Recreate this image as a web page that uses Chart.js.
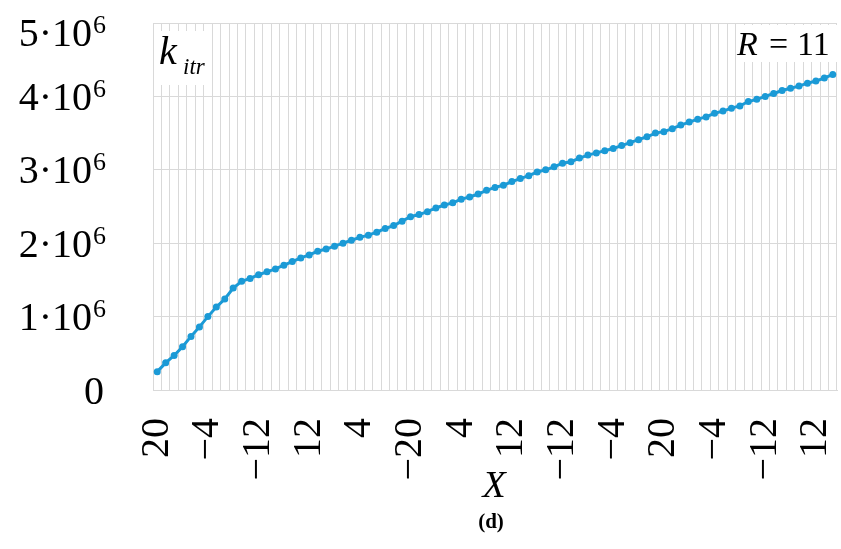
<!DOCTYPE html>
<html>
<head>
<meta charset="utf-8">
<script src="https://cdn.jsdelivr.net/npm/chart.js@4/dist/chart.umd.min.js"></script>
<style>
  html, body { margin: 0; padding: 0; background: #ffffff; }
  #wrap { width: 841px; height: 549px; }
</style>
</head>
<body>
<div id="wrap"><canvas id="c" width="841" height="549"></canvas></div>
<script>
// ---- data ----
const tickLabels = ['20', '\u22124', '\u221212', '12', '4', '\u221220', '4', '12', '\u221212', '\u22124', '20', '\u22124', '\u221212', '12'];
const tickEvery = 6;
const kValues = [
  0.25, 0.37, 0.47, 0.59, 0.73, 0.86, 1.00, 1.13, 1.24, 1.39,
  1.48, 1.52, 1.57, 1.61, 1.65, 1.70, 1.75, 1.80, 1.84, 1.89,
  1.92, 1.96, 2.00, 2.04, 2.08, 2.11, 2.15, 2.20, 2.24, 2.30,
  2.36, 2.39, 2.43, 2.48, 2.52, 2.55, 2.60, 2.63, 2.67, 2.72,
  2.76, 2.79, 2.84, 2.88, 2.92, 2.97, 3.00, 3.04, 3.09, 3.11,
  3.16, 3.20, 3.23, 3.26, 3.29, 3.33, 3.37, 3.41, 3.45, 3.50,
  3.52, 3.56, 3.61, 3.65, 3.69, 3.72, 3.77, 3.80, 3.84, 3.87,
  3.93, 3.96, 4.00, 4.04, 4.08, 4.11, 4.14, 4.18, 4.21, 4.25,
  4.30
].map(v => v * 1e6);
const yTickValues = [0, 1e6, 2e6, 3e6, 4e6, 5e6];
const yTickMantissa = ['0', '1', '2', '3', '4', '5'];
const yExponent = '6';
const seriesLabel = 'k_itr';
const annotationR = 'R';
const annotationRValue = '11';
const xTitle = 'X';
const panelLabel = '(d)';

const categories = kValues.map((_, i) => (i % tickEvery === 0 ? (tickLabels[i / tickEvery] || '') : ''));

const SERIF = "'Liberation Serif', 'Times New Roman', serif";
const GRID = '#d9d9d9';
const BLUE = '#1b9ad6';

const decorPlugin = {
  id: 'decor',
  beforeDatasetsDraw(chart) {
    const ctx = chart.ctx;
    ctx.save();
    ctx.fillStyle = '#ffffff';
    // box behind k_itr
    ctx.fillRect(154, 31, 58, 54);
    // box behind R = 11
    ctx.fillRect(737, 25, 101, 37);
    ctx.restore();
  },
  afterDraw(chart) {
    const ctx = chart.ctx;
    const ys = chart.scales.y;
    const area = chart.chartArea;
    ctx.save();
    ctx.fillStyle = '#000000';
    ctx.textBaseline = 'alphabetic';
    // y tick labels with superscript exponent
    yTickValues.forEach((v, i) => {
      let py = ys.getPixelForValue(v);
      py = Math.max(py, area.top + 9);
      if (v === 0) {
        ctx.font = '40px ' + SERIF;
        ctx.textAlign = 'right';
        ctx.fillText(yTickMantissa[i], 104, py + 13.5);
      } else {
        ctx.font = '40px ' + SERIF;
        ctx.textAlign = 'right';
        ctx.fillText(yTickMantissa[i] + '\u00B710', 92, py + 13.5);
        ctx.font = '26px ' + SERIF;
        ctx.textAlign = 'left';
        ctx.fillText(yExponent, 93, py + 0.5);
      }
    });
    // k_itr
    ctx.textAlign = 'left';
    ctx.font = 'italic 40px ' + SERIF;
    ctx.fillText('k', 159, 64);
    ctx.font = 'italic 23px ' + SERIF;
    ctx.fillText(seriesLabel.split('_')[1], 183, 74);
    // R = 11
    ctx.font = 'italic 34px ' + SERIF;
    ctx.fillText(annotationR, 737, 55);
    ctx.font = '34px ' + SERIF;
    ctx.fillText('=', 769, 55);
    ctx.fillText(annotationRValue, 797, 55);
    // axis title X
    ctx.textAlign = 'center';
    ctx.font = 'italic 38px ' + SERIF;
    ctx.fillText(xTitle, 494, 497);
    // panel label
    ctx.font = 'bold 21px ' + SERIF;
    ctx.fillText(panelLabel, 491, 528);
    ctx.restore();
  }
};

new Chart(document.getElementById('c'), {
  type: 'line',
  data: {
    labels: categories,
    datasets: [{
      label: seriesLabel,
      data: kValues,
      borderColor: BLUE,
      backgroundColor: BLUE,
      borderWidth: 3,
      pointRadius: 3.5,
      pointBorderWidth: 0,
      pointBackgroundColor: BLUE,
      tension: 0,
      fill: false
    }]
  },
  options: {
    responsive: false,
    animation: false,
    layout: { padding: { top: 23, right: 2, left: 0, bottom: 0 } },
    plugins: { legend: { display: false }, tooltip: { enabled: false } },
    scales: {
      x: {
        type: 'category',
        offset: true,
        grid: { offset: true, color: GRID, lineWidth: 1, drawTicks: false, tickLength: 0 },
        border: { color: GRID },
        ticks: {
          autoSkip: false,
          minRotation: 90,
          maxRotation: 90,
          padding: 28,
          color: '#000000',
          font: { family: SERIF, size: 40 }
        },
        afterFit(scale) {
          scale.height = 159;
          scale.paddingLeft = 0;
          scale.paddingRight = 0;
        }
      },
      y: {
        min: 0,
        max: 5e6,
        grid: { color: GRID, lineWidth: 1, drawTicks: false, tickLength: 0 },
        border: { color: GRID },
        ticks: { display: false, stepSize: 1e6 },
        afterFit(scale) {
          scale.width = 153;
          scale.paddingTop = 0;
          scale.paddingBottom = 0;
        }
      }
    }
  },
  plugins: [decorPlugin]
});
</script>
</body>
</html>
